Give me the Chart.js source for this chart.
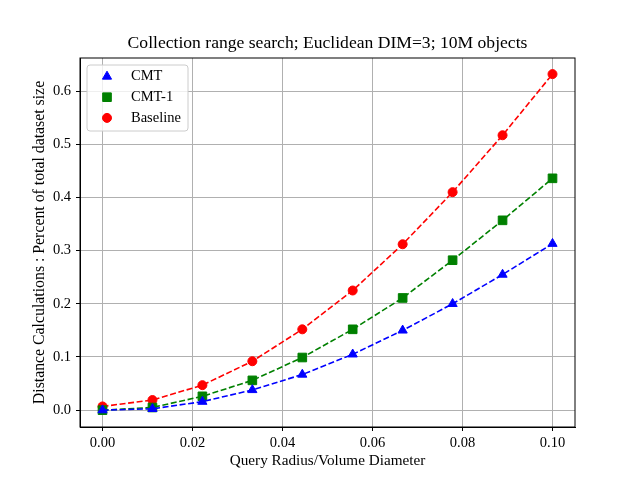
<!DOCTYPE html>
<html>
<head>
<meta charset="utf-8">
<script src="https://cdn.jsdelivr.net/npm/chart.js@4"></script>
<style>
  html, body { margin: 0; padding: 0; background: #fff; }
</style>
</head>
<body>
<canvas id="grafico" width="640" height="480"></canvas>
<script>
// Query radius values (x)
const radios = [0, 0.0111, 0.0222, 0.0333, 0.0444, 0.0556, 0.0667, 0.0778, 0.0889, 0.1];
// Series values
const cmt = [0.0, 0.0025, 0.016, 0.038, 0.067, 0.105, 0.150, 0.200, 0.255, 0.313];
const cmt1 = [0.0, 0.005, 0.026, 0.056, 0.099, 0.152, 0.211, 0.282, 0.357, 0.436];
const baseline = [0.007, 0.019, 0.047, 0.092, 0.152, 0.225, 0.312, 0.410, 0.517, 0.632];
// Tick values
const xTicks = [0, 0.02, 0.04, 0.06, 0.08, 0.10];
const yTicks = [0, 0.1, 0.2, 0.3, 0.4, 0.5, 0.6];

const titulo = 'Collection range search; Euclidean DIM=3; 10M objects';
const serif = "'Liberation Serif', 'DejaVu Serif', serif";

function serie(label, valores, color, estilo, radio) {
  return {
    label: label,
    data: radios.map((x, i) => ({ x: x, y: valores[i] })),
    borderColor: color,
    backgroundColor: color,
    borderWidth: 1.6,
    borderDash: [6, 2.6],
    pointStyle: estilo,
    pointRadius: radio,
    pointBorderWidth: 1,
    pointBackgroundColor: color,
    pointBorderColor: color,
    tension: 0,
    fill: false
  };
}

// title centred over the plot, frame on all four sides, legend inside the plot area
const marcoYLeyenda = {
  id: 'marcoYLeyenda',
  afterDraw(chart) {
    const ctx = chart.ctx;
    const a = chart.chartArea;
    ctx.save();
    ctx.font = '17.6px ' + serif;
    ctx.fillStyle = '#000';
    ctx.textAlign = 'center';
    ctx.textBaseline = 'middle';
    ctx.fillText(titulo, (a.left + a.right) / 2, 43);

    ctx.strokeStyle = '#000';
    ctx.lineWidth = 1;
    ctx.strokeRect(a.left, a.top, a.right - a.left, a.bottom - a.top);

    const x0 = a.left + 7, y0 = a.top + 7, w = 101, h = 66;
    ctx.beginPath();
    ctx.roundRect(x0, y0, w, h, 3);
    ctx.fillStyle = 'rgba(255,255,255,0.8)';
    ctx.fill();
    ctx.strokeStyle = '#cccccc';
    ctx.stroke();

    ctx.font = '14.5px ' + serif;
    ctx.textAlign = 'left';
    chart.data.datasets.forEach((ds, i) => {
      const cy = y0 + 11.5 + i * 20.7;
      ctx.fillStyle = ds.backgroundColor;
      ctx.strokeStyle = ds.borderColor;
      ctx.lineWidth = 1;
      Chart.helpers.drawPoint(ctx, {
        pointStyle: ds.pointStyle,
        radius: ds.pointRadius,
        rotation: 0,
        borderWidth: 1
      }, x0 + 20, cy);
      ctx.fillStyle = '#000';
      ctx.fillText(ds.label, x0 + 44, cy);
    });
    ctx.restore();
  }
};

new Chart(document.getElementById('grafico').getContext('2d'), {
  type: 'line',
  data: {
    datasets: [
      serie('CMT', cmt, '#0000ff', 'triangle', 5.3),
      serie('CMT-1', cmt1, '#008000', 'rect', 6.1),
      serie('Baseline', baseline, '#ff0000', 'circle', 4.5)
    ]
  },
  options: {
    responsive: false,
    animation: false,
    devicePixelRatio: 1,
    layout: { padding: { left: 0, right: 65, top: 58, bottom: 0 } },
    plugins: {
      legend: { display: false },
      tooltip: { enabled: false },
      title: { display: false }
    },
    scales: {
      x: {
        type: 'linear',
        min: -0.005,
        max: 0.105,
        afterBuildTicks: s => { s.ticks = xTicks.map(v => ({ value: v })); },
        afterFit: s => { s.height = 53; },
        ticks: {
          color: '#000',
          font: { family: serif, size: 14.5 },
          padding: 3,
          callback: v => v.toFixed(2)
        },
        grid: { color: '#b0b0b0', lineWidth: 1, tickColor: '#000', tickLength: 4 },
        border: { color: '#000', width: 1 },
        title: {
          display: true,
          text: 'Query Radius/Volume Diameter',
          color: '#000',
          font: { family: serif, size: 15.2 },
          padding: { top: 0, bottom: 10 }
        }
      },
      y: {
        min: -0.0317,
        max: 0.6623,
        afterBuildTicks: s => { s.ticks = yTicks.map(v => ({ value: v })); },
        afterFit: s => { s.width = 80; },
        ticks: {
          color: '#000',
          font: { family: serif, size: 14.5 },
          padding: 5,
          callback: v => v.toFixed(1)
        },
        grid: { color: '#b0b0b0', lineWidth: 1, tickColor: '#000', tickLength: 4 },
        border: { color: '#000', width: 1 },
        title: {
          display: true,
          text: 'Distance Calculations : Percent of total dataset size',
          color: '#000',
          font: { family: serif, size: 15.8 },
          padding: { top: 30, bottom: 0 }
        }
      }
    }
  },
  plugins: [marcoYLeyenda]
});
</script>
</body>
</html>
